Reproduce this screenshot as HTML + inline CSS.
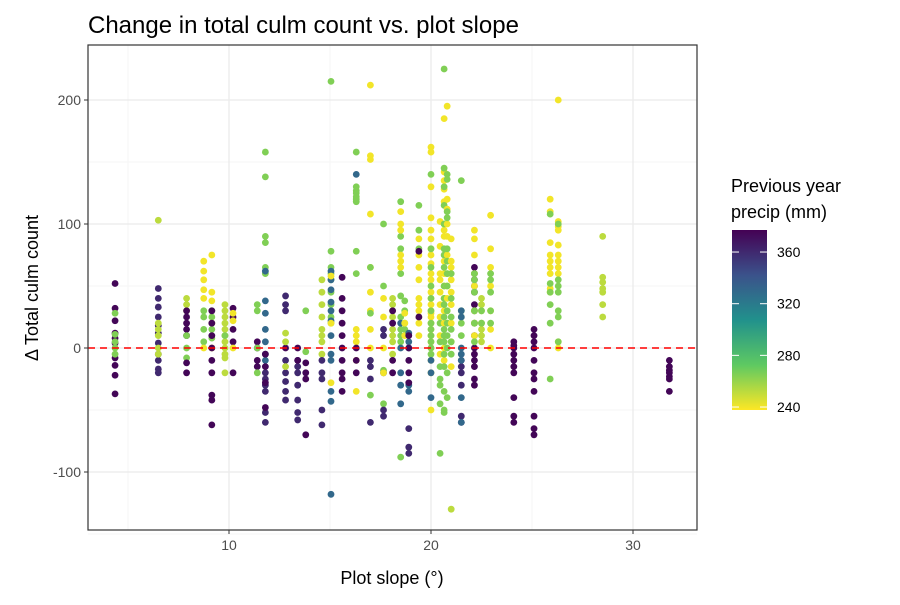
<!DOCTYPE html>
<html><head><meta charset="utf-8"><style>
body{margin:0;background:#fff;font-family:"Liberation Sans",sans-serif}
</style></head><body>
<svg id="chart" width="900" height="600" xmlns="http://www.w3.org/2000/svg" font-family="Liberation Sans, sans-serif">
<defs><linearGradient id="vg" x1="0" y1="1" x2="0" y2="0">
<stop offset="0" stop-color="#fde725"/><stop offset="0.25" stop-color="#5ec962"/><stop offset="0.5" stop-color="#21918c"/><stop offset="0.75" stop-color="#3b528b"/><stop offset="1" stop-color="#440154"/></linearGradient></defs>
<text x="88" y="33" font-size="24" fill="#000">Change in total culm count vs. plot slope</text>
<g id="grid"></g><g id="pts"></g><g id="axes"></g>
<text x="392" y="584" font-size="18" text-anchor="middle">Plot slope (°)</text>
<text transform="translate(38,288) rotate(-90)" font-size="18" text-anchor="middle">Δ Total culm count</text>
<g>
<text x="731" y="192" font-size="18">Previous year</text>
<text x="731" y="218" font-size="18">precip (mm)</text>
<rect x="732" y="230" width="35" height="180" fill="url(#vg)"/>
<g id="cbticks"></g>
</g>
</svg>
<script>
const xTicks=[10,20,30];
const yTicks=[-100,0,100,200];
const cbTicks=[240,280,320,360];
const slopeGroups=[4.36,6.5,7.9,8.75,9.15,9.8,10.2,11.4,11.8,12.8,13.4,13.8,14.6,15.05,15.6,16.3,17.0,17.65,18.1,18.5,18.7,18.9,19.4,20.0,20.45,20.65,20.8,21.0,21.5,22.15,22.5,22.95,24.1,25.1,25.9,26.3,28.5,31.8];
const D=375,P=360,B=330,G=265,L=252,Y=240;
const deltaGroups=[
[[52,D],[32,D],[22,D],[12,D],[8,D],[4,D],[-8,D],[-14,D],[-22,D],[-37,D],[28,G],[11,G],[5,G],[0,G],[-5,G]],
[[48,P],[40,P],[33,P],[25,P],[18,P],[12,P],[4,P],[-5,P],[-10,P],[-17,P],[-20,P],[103,L],[20,L],[15,L],[10,L],[0,L],[-5,L]],
[[40,L],[35,L],[30,L],[30,D],[25,D],[20,D],[15,D],[10,D],[10,G],[0,G],[-8,G],[-12,D],[-20,D]],
[[70,Y],[62,Y],[55,Y],[47,Y],[40,Y],[30,G],[25,G],[15,G],[5,G],[0,Y]],
[[75,Y],[45,Y],[38,Y],[20,Y],[0,Y],[30,G],[25,G],[15,G],[8,G],[30,D],[20,D],[10,D],[0,D],[-10,D],[-20,D],[-38,D],[-42,D],[-62,D]],
[[35,L],[30,L],[25,L],[20,L],[15,L],[10,L],[5,L],[0,L],[-5,L],[-8,L],[-20,L],[10,G]],
[[32,D],[25,D],[15,D],[5,D],[-20,D],[28,Y],[22,Y],[0,Y]],
[[5,D],[0,D],[-10,D],[-15,D],[35,G],[30,G],[0,G],[-20,G]],
[[158,G],[138,G],[90,G],[85,G],[65,G],[60,G],[62,B],[38,B],[28,B],[15,B],[5,B],[-5,B],[-10,B],[-20,P],[-25,P],[-30,P],[-35,P],[-52,P],[-60,P],[-5,D],[-15,D],[-28,D],[-48,D]],
[[42,P],[35,P],[30,P],[-10,P],[-20,P],[-27,P],[-35,P],[-42,P],[0,D],[12,L],[5,L],[-15,L]],
[[-10,P],[-15,P],[-20,P],[-30,P],[-42,P],[-52,P],[-58,P],[0,D],[-10,D]],
[[-12,D],[-20,D],[-25,D],[-70,D],[30,G],[-3,G]],
[[55,L],[45,L],[35,L],[25,L],[15,L],[10,L],[5,L],[-5,L],[-10,P],[-20,P],[-25,P],[-50,P],[-62,P]],
[[215,G],[78,G],[65,G],[60,G],[55,G],[45,G],[35,G],[25,G],[20,G],[62,B],[55,B],[47,B],[37,B],[30,B],[22,B],[10,B],[-5,B],[-10,B],[-35,B],[-43,B],[-118,B],[58,Y],[20,Y],[-28,Y]],
[[57,D],[40,D],[30,D],[20,D],[10,D],[0,D],[-10,D],[-20,D],[-25,D],[-35,D]],
[[158,G],[130,G],[127,G],[125,G],[122,G],[120,G],[118,G],[78,G],[60,G],[140,B],[5,Y],[10,Y],[15,Y],[-10,Y],[-35,Y],[0,D],[-10,D],[-20,D]],
[[212,Y],[155,Y],[152,Y],[108,Y],[65,Y],[45,Y],[30,Y],[15,Y],[0,Y],[65,G],[28,G],[-38,G],[-10,P],[-15,P],[-25,P],[-60,P]],
[[100,G],[50,G],[-18,G],[-45,G],[15,P],[10,P],[-20,P],[-50,P],[-55,P],[40,Y],[25,Y],[0,Y],[-20,Y]],
[[40,L],[35,L],[30,L],[25,L],[15,L],[10,L],[5,L],[-5,L],[30,D],[20,D],[-10,D],[-20,D]],
[[118,G],[90,G],[80,G],[60,G],[42,G],[25,G],[15,G],[10,G],[5,G],[110,Y],[100,Y],[95,Y],[75,Y],[70,Y],[65,Y],[20,B],[0,B],[-20,B],[-30,B],[-45,B],[-88,G]],
[[38,G],[30,G],[20,G],[15,G],[28,Y],[20,Y],[10,Y]],
[[12,B],[5,B],[0,B],[-30,B],[-35,B],[10,D],[0,D],[-10,D],[-20,D],[-28,D],[-65,P],[-80,P],[-85,P]],
[[115,G],[95,G],[80,G],[88,Y],[75,Y],[65,Y],[55,Y],[40,Y],[35,Y],[30,Y],[25,Y],[20,Y],[10,Y],[25,D],[78,D]],
[[162,Y],[158,Y],[130,Y],[105,Y],[95,Y],[88,Y],[80,Y],[75,Y],[68,Y],[60,Y],[55,Y],[45,Y],[40,Y],[35,Y],[30,Y],[28,Y],[25,Y],[20,Y],[15,Y],[10,Y],[5,Y],[0,Y],[-10,Y],[-20,Y],[-50,Y],[140,G],[80,G],[65,G],[50,G],[40,G],[30,G],[20,G],[15,G],[10,G],[5,G],[0,G],[-5,G],[-20,B],[-40,B],[-10,B]],
[[102,Y],[82,Y],[60,Y],[55,Y],[45,Y],[35,Y],[25,Y],[10,Y],[-5,Y],[20,G],[5,G],[-15,G],[-25,G],[-30,G],[-45,G],[-85,G]],
[[185,Y],[142,Y],[135,Y],[128,Y],[118,Y],[100,Y],[95,Y],[90,Y],[70,Y],[60,Y],[50,Y],[40,Y],[30,Y],[20,Y],[10,Y],[0,Y],[-10,Y],[225,G],[145,G],[130,G],[115,G],[100,G],[80,G],[75,G],[65,G],[50,G],[40,G],[35,G],[25,G],[15,G],[10,G],[5,G],[-5,G],[-15,G],[-35,G],[-50,G],[-52,G]],
[[195,Y],[120,Y],[112,Y],[100,Y],[90,Y],[75,Y],[60,Y],[50,Y],[40,Y],[30,Y],[20,Y],[140,G],[136,G],[110,G],[105,G],[80,G],[70,G],[60,G],[50,G],[30,G],[20,G],[10,G],[0,G],[-20,G],[-40,G]],
[[88,Y],[70,Y],[65,Y],[55,Y],[45,Y],[35,Y],[20,Y],[5,Y],[-15,Y],[60,G],[40,G],[25,G],[15,G],[5,G],[-5,G],[-130,L]],
[[135,G],[30,G],[25,G],[20,G],[10,G],[-10,P],[-15,P],[-20,P],[-30,P],[-55,P],[-60,P],[30,B],[25,B],[0,B],[-5,B],[-10,B],[-40,B],[-60,B]],
[[65,D],[60,D],[55,D],[50,D],[45,D],[35,D],[30,D],[20,D],[10,D],[0,D],[-5,D],[-10,D],[-15,D],[-25,D],[-30,D],[95,Y],[88,Y],[75,Y],[60,Y],[50,Y],[30,Y],[20,Y],[10,Y],[60,G],[55,G],[45,G],[30,G],[20,G],[5,G]],
[[40,L],[35,L],[30,L],[20,L],[15,L],[10,L],[5,L],[30,G],[20,G]],
[[107,Y],[80,Y],[65,Y],[50,Y],[30,Y],[15,Y],[0,Y],[60,G],[55,G],[45,G],[30,G],[20,G]],
[[5,D],[2,D],[0,D],[-5,D],[-10,D],[-15,D],[-20,D],[-40,D],[-55,D],[-60,D]],
[[15,D],[10,D],[5,D],[0,D],[-10,D],[-20,D],[-25,D],[-35,D],[-55,D],[-65,D],[-70,D]],
[[120,Y],[110,Y],[85,Y],[75,Y],[70,Y],[65,Y],[60,Y],[48,Y],[45,Y],[108,G],[52,G],[45,G],[35,G],[20,G],[-25,G]],
[[200,Y],[102,Y],[98,Y],[95,Y],[83,Y],[75,Y],[70,Y],[65,Y],[60,Y],[5,Y],[0,Y],[100,G],[55,G],[50,G],[45,G],[30,G],[25,G],[5,G]],
[[90,L],[57,L],[53,L],[48,L],[45,L],[35,L],[25,L]],
[[-10,D],[-15,D],[-18,D],[-20,D],[-23,D],[-25,D],[-35,D]]
];
const NS="http://www.w3.org/2000/svg";
const X0=88,X1=697,Y0=45,Y1=530;
const xs=s=>27+20.2*s;
const ys=v=>348-1.24*v;
const cb=p=>410-(p-237.7)*1.2917;
const stops=[[0,[253,231,37]],[0.25,[94,201,98]],[0.5,[33,145,140]],[0.75,[59,82,139]],[1,[68,1,84]]];
function vir(p){let t=Math.max(0,Math.min(1,(p-237.7)/(377-237.7)));for(let i=1;i<stops.length;i++){if(t<=stops[i][0]){const a=stops[i-1],b=stops[i],f=(t-a[0])/(b[0]-a[0]);return 'rgb('+a[1].map((c,k)=>Math.round(c+(b[1][k]-c)*f)).join(',')+')';}}return 'rgb(68,1,84)';}
function mk(tag,attrs,parent){const e=document.createElementNS(NS,tag);for(const k in attrs)e.setAttribute(k,attrs[k]);parent.appendChild(e);return e;}
const grid=document.getElementById('grid'),pts=document.getElementById('pts'),axes=document.getElementById('axes');
mk('rect',{x:X0,y:Y0,width:X1-X0,height:Y1-Y0,fill:'#fff'},grid);
[5,15,25].forEach(v=>{const l=mk('line',{x1:xs(v),x2:xs(v),y1:Y0,y2:Y1,stroke:'#f3f3f3','stroke-width':0.8},grid);});
[-150,-50,50,150].forEach(v=>{const l=mk('line',{x1:X0,x2:X1,y1:ys(v),y2:ys(v),stroke:'#f3f3f3','stroke-width':0.8},grid);});
xTicks.forEach(v=>{const l=mk('line',{x1:xs(v),x2:xs(v),y1:Y0,y2:Y1,stroke:'#ebebeb','stroke-width':1.3},grid);
const t=mk('text',{x:xs(v),y:Y1+20,'font-size':14,fill:'#4d4d4d','text-anchor':'middle'},axes);t.textContent=v;
mk('line',{x1:xs(v),x2:xs(v),y1:Y1,y2:Y1+4,stroke:'#333'},axes);});
yTicks.forEach(v=>{const l=mk('line',{x1:X0,x2:X1,y1:ys(v),y2:ys(v),stroke:'#ebebeb','stroke-width':1.3},grid);
const t=mk('text',{x:X0-7,y:ys(v)+5,'font-size':14,fill:'#4d4d4d','text-anchor':'end'},axes);t.textContent=v;
mk('line',{x1:X0-4,x2:X0,y1:ys(v),y2:ys(v),stroke:'#333'},axes);});
slopeGroups.forEach((s,i)=>{deltaGroups[i].forEach(([d,p])=>{const c=mk('circle',{cx:xs(s),cy:ys(d),r:3.4,fill:vir(p)},pts);

});});
const zl=mk('line',{x1:X0,x2:X1,y1:ys(0),y2:ys(0),stroke:'#ff0000','stroke-width':1.6,'stroke-dasharray':'7,5'},axes);


const fr=mk('rect',{x:X0,y:Y0,width:X1-X0,height:Y1-Y0,fill:'none',stroke:'#333','stroke-width':1.2},axes);


const cbg=document.getElementById('cbticks');
cbTicks.forEach(v=>{mk('line',{x1:732,x2:739,y1:cb(v),y2:cb(v),stroke:'#fff','stroke-width':1},cbg);mk('line',{x1:760,x2:767,y1:cb(v),y2:cb(v),stroke:'#fff','stroke-width':1},cbg);
const t=mk('text',{x:777,y:cb(v)+5,'font-size':14,fill:'#000'},cbg);t.textContent=v;});
</script>
</body></html>
